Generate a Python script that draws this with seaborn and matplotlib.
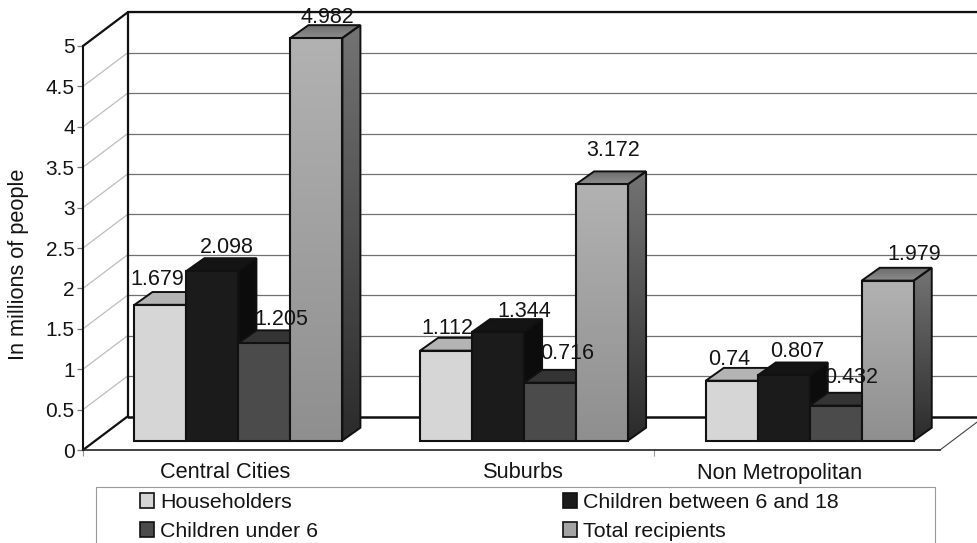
import matplotlib
matplotlib.use("Agg")
import matplotlib.pyplot as plt
import numpy as np
import pandas as pd
import seaborn as sns
from matplotlib.colors import LinearSegmentedColormap
from matplotlib.patches import Polygon, Rectangle

sns.set_theme(style="white")
plt.rcParams["font.family"] = ["Liberation Sans", "DejaVu Sans"]

# Food stamp recipients by residence, millions of people
regions = ["Central Cities", "Suburbs", "Non Metropolitan"]
groups = ["Householders", "Children between 6 and 18", "Children under 6", "Total recipients"]
householders = [1.679, 1.112, 0.74]
children_6_18 = [2.098, 1.344, 0.807]
children_under_6 = [1.205, 0.716, 0.432]
total_recipients = [4.982, 3.172, 1.979]
value_labels = ["1.679", "1.112", "0.74", "2.098", "1.344", "0.807",
                "1.205", "0.716", "0.432", "4.982", "3.172", "1.979"]
y_ticks = [0, 0.5, 1, 1.5, 2, 2.5, 3, 3.5, 4, 4.5, 5]
y_tick_labels = ["0", "0.5", "1", "1.5", "2", "2.5", "3", "3.5", "4", "4.5", "5"]

W, H = 978, 543
TICK_FONT = 15
LABEL_FONT = 15.5
CAT_FONT = 15.7
TEXT = "#141414"

front_col = ["#d6d6d6", "#1b1b1b", "#4b4b4b", "#a3a3a3"]
top_col = ["#b4b4b4", "#141414", "#343434", "#828282"]
side_col = ["#8c8c8c", "#0c0c0c", "#262626", "#4f4f4f"]
edge = "#111111"

df = pd.DataFrame({
    "region": np.tile(regions, 4),
    "group": np.repeat(groups, 3),
    "value": householders + children_6_18 + children_under_6 + total_recipients,
})

fig = plt.figure(figsize=(W / 100, H / 100), dpi=100, facecolor="white")


def place(x0, y0, x1, y1):
    """Axes rectangle from pixel corners (left, baseline, right, top)."""
    return [x0 / W, 1 - y0 / H, (x1 - x0) / W, (y0 - y1) / H]


# Front plane carries the value axis and the category labels
ax = fig.add_axes(place(83, 450, 940, 46))
ax.set_xlim(-0.5, 2.5)
ax.set_ylim(0, 5)
ax.patch.set_alpha(0)
px_x = 3 / 857
px_y = 5 / 404

# Back wall, side wall and floor sit behind the front plane
wall_dx, wall_dy = 44.5 * px_x, 33.5 * px_y
for t in y_ticks[1:]:
    ax.plot([-0.5 + wall_dx, 2.5 + wall_dx], [t + wall_dy] * 2, color="#707070", lw=0.9,
            clip_on=False, zorder=1)
    ax.plot([-0.5, -0.5 + wall_dx], [t, t + wall_dy], color="#bdbdbd", lw=0.9,
            clip_on=False, zorder=1)
ax.plot([-0.5 + wall_dx, 2.5 + wall_dx], [5 + wall_dy] * 2, color="#111111", lw=1.6, clip_on=False, zorder=1)
ax.plot([-0.5 + wall_dx, 2.5 + wall_dx], [wall_dy] * 2, color="#111111", lw=1.8, clip_on=False, zorder=1)
ax.plot([-0.5 + wall_dx] * 2, [wall_dy, 5 + wall_dy], color="#111111", lw=1.6, clip_on=False, zorder=1)
ax.plot([-0.5, -0.5 + wall_dx], [5, 5 + wall_dy], color="#111111", lw=1.6, clip_on=False, zorder=1)
ax.plot([-0.5, -0.5 + wall_dx], [0, wall_dy], color="#111111", lw=1.6, clip_on=False, zorder=1)
ax.plot([2.5, 2.5 + wall_dx], [0, wall_dy], color="#444444", lw=0.8, clip_on=False, zorder=1)

sns.despine(ax=ax, top=True, right=True)
ax.spines["left"].set_linewidth(1.5)
ax.spines["left"].set_color("#111111")
ax.spines["bottom"].set_linewidth(1.2)
ax.spines["bottom"].set_color("#222222")
ax.set_yticks(y_ticks, y_tick_labels, fontsize=TICK_FONT, color=TEXT)
ax.tick_params(axis="y", length=4, width=0.9, color="#777777", pad=2, left=True)
ax.set_xticks([-0.003, 1.04, 1.94], regions, fontsize=CAT_FONT, color=TEXT)
ax.set_xticks([-0.5, 1.5], minor=True)
ax.tick_params(axis="x", which="major", length=0, pad=9)
ax.tick_params(axis="x", which="minor", length=4, width=0.8, color="#999999", bottom=True)
ax.set_ylabel("In millions of people", fontsize=CAT_FONT, color=TEXT)
ax.yaxis.set_label_coords(-0.0635, 0.46)

# Bars stand on a plane set slightly behind the front of the floor
bars_ax = fig.add_axes(place(95.6, 440.5, 952.6, 36.5))
bars_ax.patch.set_alpha(0)
sns.barplot(data=df, x="region", y="value", hue="group", hue_order=groups, order=regions,
            palette=front_col, width=0.728, gap=0, errorbar=None, legend=False,
            edgecolor=edge, linewidth=1.5, ax=bars_ax, saturation=1)
bars_ax.axis("off")

depth_x, depth_y = 18 * px_x, 12.8 * px_y
bars = [p for p in bars_ax.patches if p.get_height() > 0]
bars_sorted = sorted(bars, key=lambda p: p.get_x())


def shaded(poly, c_top, c_bottom, z):
    """Fill a polygon with a vertical grey ramp."""
    pts = poly.get_xy()
    cmap = LinearSegmentedColormap.from_list("ramp", [c_top, c_bottom])
    grad = np.linspace(0, 1, 128).reshape(-1, 1)
    img = bars_ax.imshow(grad, cmap=cmap, aspect="auto", zorder=z, origin="upper",
                         extent=(pts[:, 0].min(), pts[:, 0].max(), pts[:, 1].min(), pts[:, 1].max()))
    img.set_clip_path(poly)
    img.set_clip_box(fig.bbox)


for i, bar in enumerate(bars_sorted):
    z = 3 + i * 0.1
    x0, w, h = bar.get_x(), bar.get_width(), bar.get_height()
    k = i % 4
    bar.set_zorder(z + 0.05)
    bar.set_clip_on(False)
    top = Polygon([(x0, h), (x0 + depth_x, h + depth_y), (x0 + w + depth_x, h + depth_y), (x0 + w, h)],
                  closed=True, fc=top_col[k], ec=edge, lw=1.4, zorder=z + 0.02, clip_on=False)
    side = Polygon([(x0 + w, 0), (x0 + w + depth_x, depth_y), (x0 + w + depth_x, h + depth_y), (x0 + w, h)],
                   closed=True, fc=side_col[k], ec=edge, lw=1.4, zorder=z + 0.02, clip_on=False)
    bars_ax.add_patch(side)
    bars_ax.add_patch(top)
    if k == 3:
        # Tallest bars fade from light at the top to dark at the floor
        for poly, c1, c2 in ((side, "#747474", "#2b2b2b"), (top, "#6c6c6c", "#8e8e8e")):
            poly.set_facecolor("none")
            shaded(poly, c1, c2, z + 0.01)
        face = Polygon([(x0, 0), (x0, h), (x0 + w, h), (x0 + w, 0)], closed=True,
                       fc="none", ec="none", zorder=z)
        bars_ax.add_patch(face)
        bar.set_facecolor("none")
        shaded(face, "#b2b2b2", "#8f8f8f", z + 0.04)

bars_ax.set_xlim(-0.5, 2.5)
bars_ax.set_ylim(0, 5)

# Value labels: (dx, dy) in points from the top front edge of each bar
nudges = {
    "1.679": (-2, 18), "2.098": (10, 17), "1.205": (12, 17), "4.982": (8, 15),
    "1.112": (1, 16), "1.344": (19, 15), "0.716": (12, 21), "3.172": (8, 24),
    "0.74": (-2, 15), "0.807": (10, 17), "0.432": (11, 20), "1.979": (19, 19),
}
vals = np.array(householders + children_6_18 + children_under_6 + total_recipients)
for bar in bars_sorted:
    match = np.isclose(vals, bar.get_height())
    text = value_labels[int(np.argmax(match))]
    bars_ax.annotate(text, (bar.get_x() + bar.get_width() / 2, bar.get_height()),
                     xytext=nudges[text], textcoords="offset points", ha="center", va="center",
                     fontsize=LABEL_FONT, color=TEXT, annotation_clip=False, zorder=10)

# Legend panel runs off the lower edge of the canvas
fig.add_artist(Rectangle((96 / W, -0.02), (935 - 96) / W, 1 - 487 / H + 0.02, transform=fig.transFigure,
                         fc="white", ec="#9a9a9a", lw=0.8, zorder=0))
handles = [Rectangle((0, 0), 1, 1, fc=front_col[k], ec=edge, lw=1.2) for k in [0, 2, 1, 3]]
names = [groups[k] for k in [0, 2, 1, 3]]
fig.legend(handles, names, ncols=2, frameon=False, loc="upper left",
           bbox_to_anchor=(140 / W, 1 - 493 / H), fontsize=CAT_FONT - 0.3, borderpad=0, borderaxespad=0,
           handlelength=0.65, handleheight=0.65, handletextpad=0.28,
           columnspacing=11.47, labelspacing=0.47, labelcolor=TEXT)

fig.savefig("out.png", dpi=100)
